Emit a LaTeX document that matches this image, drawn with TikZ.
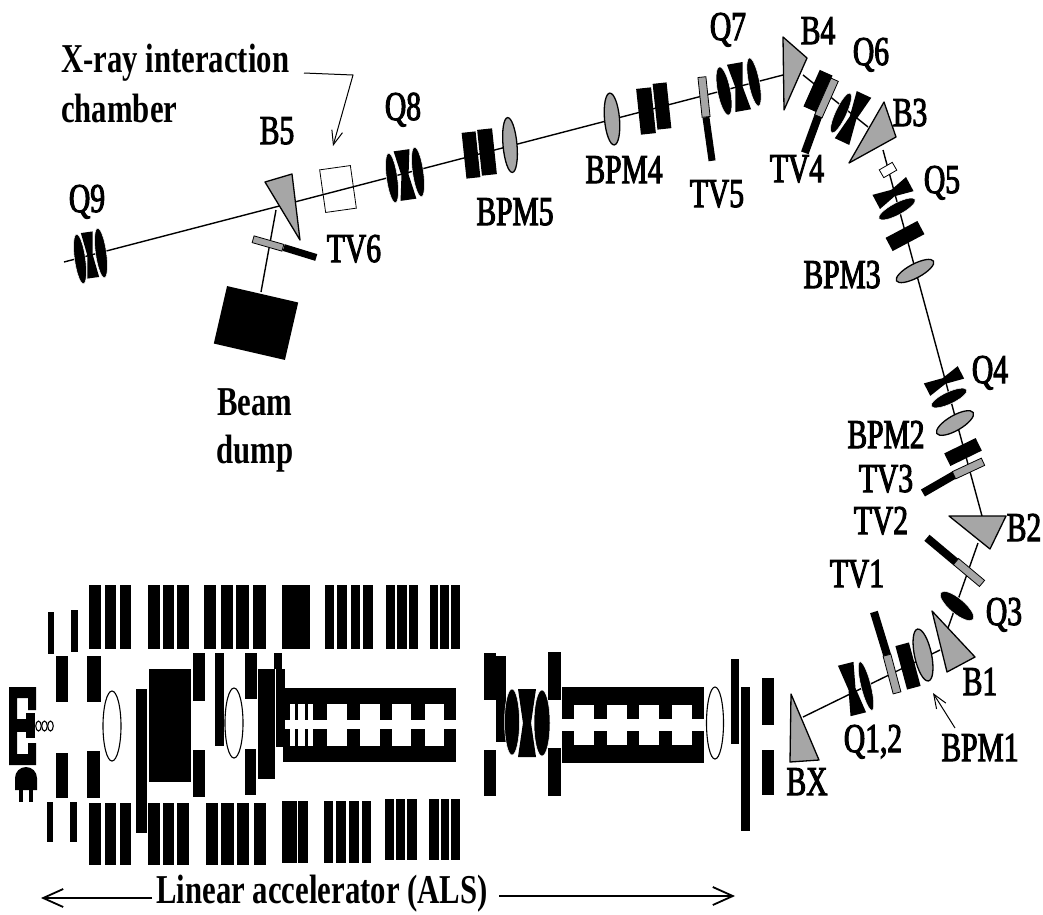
\documentclass[tikz,border=0pt]{standalone}
\usepackage{fontspec}
\usetikzlibrary{arrows.meta,shapes.geometric}
\newfontfamily\lblfont[FakeStretch=0.72,FakeBold=2.5]{Liberation Serif}
\newfontfamily\lblbold[FakeStretch=0.75]{Liberation Serif Bold}
\tikzset{
  lbl/.style={font=\lblfont\fontsize{41}{41}\selectfont, anchor=base, inner sep=0pt},
  bold lbl/.style={font=\lblbold\fontsize{41}{41}\selectfont, anchor=base, inner sep=0pt},
  beam/.style={line width=1.4pt},
  pointer/.style={line width=1pt, -{Straight Barb[length=14pt,width=11pt]}},
  span arrow/.style={line width=1.8pt, -{Straight Barb[length=20pt,width=18pt]}},
  blackbar/.style 2 args={rectangle, fill=black, inner sep=0pt, minimum width=#1pt, minimum height=#2pt},
  graybar/.style 2 args={rectangle, fill=gray!70, draw=black, line width=0.8pt, inner sep=0pt, minimum width=#1pt, minimum height=#2pt},
  lens/.style 2 args={ellipse, fill=black, draw=white, line width=0.5pt, inner sep=0pt, minimum width=#1pt, minimum height=#2pt},
  bpm/.style 2 args={ellipse, fill=gray!70, draw=black, line width=1.3pt, inner sep=0pt, minimum width=#1pt, minimum height=#2pt},
  hollow/.style 2 args={ellipse, fill=white, draw=black, line width=1.1pt, inner sep=0pt, minimum width=#1pt, minimum height=#2pt},
  dipole/.style={fill=gray!70, draw=black, line width=1.3pt, line join=round},
  bowtie/.pic={\fill (-1,-1) -- (1,-1) -- (0.45,0) -- (1,1) -- (-1,1) -- (-0.45,0) -- cycle;}
}

\begin{document}
\begin{tikzpicture}[x=1pt, y=-1pt]
  \useasboundingbox (0,0) rectangle (1043,914);

  % beam line
  \coordinate (bxout) at (803,717);
  \coordinate (bonein) at (940,650);
  \coordinate (boneout) at (948,628);
  \coordinate (btwoin) at (978,543);
  \coordinate (btwoout) at (982,516);
  \coordinate (bthreein) at (883,150);
  \coordinate (bthreeout) at (868,127);
  \coordinate (bfourout) at (803,75);
  \coordinate (bfourin) at (783,75);
  \coordinate (qnineend) at (64,262);
  \coordinate (bfiveout) at (276,210);
  \coordinate (dumpin) at (261,292);

  \draw[beam] (bxout) -- (bonein);
  \draw[beam] (boneout) -- (btwoin);
  \draw[beam] (btwoout) -- (bthreein);
  \draw[beam] (bthreeout) -- (bfourout);
  \draw[beam] (bfourin) -- (qnineend);
  \draw[beam] (bfiveout) -- (dumpin);

  % linac, upper and lower rows of coils
  \foreach \xa/\xb in {89/101,105/116,120/131,148/160,163/174,177/189,204/216,221/233,236/249,253/266,282/310,325/334,337/347,351/360,363/373,386/395,397/407,409/418,430/438,440/449,451/460}
    \fill (\xa,585) rectangle (\xb,649);
  \foreach \xa/\xb in {89/101,105/116,120/131,148/160,163/174,177/189,206/218,221/234,237/249,254/266}
    \fill (\xa,803) rectangle (\xb,865);
  \foreach \xa/\xb in {282/297,298/308,324/333,336/346,349/359,362/371}
    \fill (\xa,801) rectangle (\xb,863);
  \foreach \xa/\xb in {385/394,396/405,407/417,429/439,441/449,451/460}
    \fill (\xa,799) rectangle (\xb,860);

  % linac, single blocks
  \foreach \xa/\ya/\xb/\yb in {48/612/54/654,71/610/78/652,47/802/53/842,70/802/77/842,
      56/656/68/702,87/656/101/702,56/753/68/798,87/751/100/798,136/689/147/833,149/669/191/782,
      193/653/205/701,193/750/205/797,215/653/224/746,245/653/257/699,245/749/256/795,
      258/669/275/779,274/653/282/669,276/669/285/747,
      484/653/496/700,496/656/506/742,484/750/496/796,548/652/561/700,548/748/561/796,
      731/659/739/744,741/687/750/831,762/678/774/725,762/750/774/795}
    \fill (\xa,\ya) rectangle (\xb,\yb);

  % first accelerating section
  \fill (283,688) rectangle (456,704);
  \fill (283,746) rectangle (456,762);
  \foreach \xa/\xb in {285/290,295/298,305/308,313/327,347/360,380/392,411/425,444/456} {
    \fill (\xa,704) rectangle (\xb,720);
    \fill (\xa,729) rectangle (\xb,746);
  }

  % second accelerating section
  \fill (562,687) rectangle (704,705);
  \fill (562,745) rectangle (704,763);
  \foreach \xa/\xb in {562/574,594/607,627/639,659/672,692/704} {
    \fill (\xa,705) rectangle (\xb,719);
    \fill (\xa,731) rectangle (\xb,745);
  }

  % gun
  \fill (9,687) -- (36,687) -- (36,710) -- (28,710) -- (28,698) -- (17,698) -- (17,754)
    -- (28,754) -- (28,743) -- (36,743) -- (36,765) -- (9,765) -- cycle;
  \fill (17,719) rectangle (28,732);
  \fill (26,713) rectangle (35,738);
  \node[hollow={5.5}{10}] (gunone) at (38.5,726) {};
  \node[hollow={5.5}{10}] (guntwo) at (44.5,726) {};
  \node[hollow={5.5}{10}] (gunthree) at (50.5,726) {};
  \fill (15,790) -- (15,778) arc[start angle=180, end angle=0, x radius=11, y radius=-11] -- (37,790) -- cycle;
  \fill (19,790) rectangle (23,802);
  \fill (29,790) rectangle (33,802);

  % linac lenses
  \node[hollow={18}{70}] (lensa) at (112,726) {};
  \node[hollow={18}{70}] (lensb) at (234,723) {};
  \node[hollow={17}{72}] (lensc) at (715,723) {};
  \pic[xscale=9,yscale=34] (lensqb) at (527,723) {bowtie};
  \node[lens={15}{66}] (lensqa) at (512,722) {};
  \node[lens={16}{66}] (lensqc) at (542,723) {};

  % BX to B2
  \fill[dipole] (791,694) -- (819,760) -- (790,762) -- cycle;
  \pic[rotate=14,xscale=8,yscale=26] (qoneb) at (852,689) {bowtie};
  \node[lens={10}{50},rotate=14] (qonea) at (866,686) {};
  \node[blackbar={8}{45},rotate=17] (tvonea) at (880.5,633.5) {};
  \node[graybar={8}{39},rotate=15] (tvoneb) at (892,674) {};
  \node[blackbar={14}{45},rotate=15] (bpmonerect) at (908,666) {};
  \node[bpm={17}{53},rotate=12] (bpmone) at (923,655) {};
  \fill[dipole] (932,611) -- (975,657) -- (947,672) -- cycle;
  \node[lens={15}{42},rotate=50] (qthree) at (957,606) {};
  \node[blackbar={8}{38},rotate=50] (tvtwoa) at (941.5,550) {};
  \node[graybar={8}{34},rotate=50] (tvtwob) at (969,572.5) {};
  \fill[dipole] (949,516) -- (1006,516) -- (990,549) -- cycle;

  % B2 to B3
  \node[blackbar={8}{36},rotate=-60] (tvthreea) at (938.5,484) {};
  \node[graybar={8}{32},rotate=-65] (tvthreeb) at (968.5,468.5) {};
  \node[blackbar={14}{35},rotate=-64] (bpmtworect) at (963,452) {};
  \node[bpm={15}{42},rotate=-60] (bpmtwo) at (955,423) {};
  \pic[rotate=-63,xscale=7,yscale=19] (qfourb) at (944,381) {bowtie};
  \node[lens={12}{39},rotate=-65] (qfoura) at (949,398) {};
  \node[bpm={14}{42},rotate=-62] (bpmthree) at (915,271) {};
  \node[blackbar={15}{36},rotate=-62] (bpmthreerect) at (905,236) {};
  \pic[rotate=-62,xscale=8,yscale=19] (qfiveb) at (893,193) {bowtie};
  \node[lens={12}{41},rotate=-62] (qfivea) at (897,209) {};
  \node[rectangle, fill=white, draw=black, line width=0.8pt, inner sep=0pt, minimum width=9pt, minimum height=15pt, rotate=-60] (qfivebox) at (888,170) {};
  \fill[dipole] (884,102) -- (896,137) -- (849,163) -- cycle;

  % B3 to B4
  \pic[rotate=-25,xscale=8,yscale=26] (qsixb) at (853,118) {bowtie};
  \node[lens={11}{44},rotate=-25] (qsixa) at (841,113) {};
  \node[blackbar={14}{40},rotate=-24] (tvfourrect) at (818,91) {};
  \node[graybar={8}{40},rotate=-24] (tvfourb) at (826.5,98) {};
  \node[blackbar={8}{39},rotate=-20] (tvfoura) at (811.5,134.5) {};
  \fill[dipole] (783,37) -- (807,58) -- (784,110) -- cycle;

  % B4 to B5
  \pic[rotate=10,xscale=8,yscale=24] (qsevenb) at (739,87) {bowtie};
  \node[lens={13}{49},rotate=11] (qsevena) at (724,91) {};
  \node[lens={11}{49},rotate=11] (qsevenc) at (754,82) {};
  \node[graybar={8}{40},rotate=6] (tvfiveb) at (704,97) {};
  \node[blackbar={7}{44},rotate=8] (tvfivea) at (709,139) {};
  \node[blackbar={15}{46},rotate=6] (recta) at (646,111) {};
  \node[blackbar={14}{46},rotate=6] (rectb) at (662,106) {};
  \node[bpm={15}{52},rotate=5] (bpmfour) at (612,119) {};
  \node[bpm={14}{55},rotate=5] (bpmfive) at (510,145) {};
  \node[blackbar={14}{46},rotate=6] (rectc) at (471,155) {};
  \node[blackbar={15}{46},rotate=6] (rectd) at (487,152) {};
  \pic[rotate=8,xscale=8,yscale=25] (qeightb) at (405,175) {bowtie};
  \node[lens={11}{50},rotate=8] (qeighta) at (392,178) {};
  \node[lens={11}{50},rotate=8] (qeightc) at (418,172) {};
  \node[rectangle, draw=black, line width=0.8pt, inner sep=0pt, minimum width=31pt, minimum height=43pt, rotate=8] (chamber) at (338,189) {};
  \fill[dipole] (265,182) -- (292,174) -- (300,240) -- cycle;

  % B5 to the dump and Q9
  \node[graybar={7}{31},rotate=74] (tvsixb) at (268,243.5) {};
  \node[blackbar={7}{34},rotate=73] (tvsixa) at (300,252.5) {};
  \node[rectangle, fill=black, inner sep=0pt, minimum width=73pt, minimum height=59pt, rotate=-13] (dump) at (256,323) {};
  \pic[rotate=8,xscale=6,yscale=23] (qnineb) at (90,255) {bowtie};
  \node[lens={11}{50},rotate=8] (qninea) at (80,259) {};
  \node[lens={11}{50},rotate=8] (qninec) at (101,253) {};

  % pointers
  \coordinate (chamberstart) at (304,73);
  \coordinate (chamberbend) at (353,75);
  \coordinate (chambertip) at (333,146);
  \draw[pointer] (chamberstart) -- (chamberbend) -- (chambertip);
  \coordinate (bpmonestart) at (955,728);
  \coordinate (bpmonetip) at (933,693);
  \draw[pointer] (bpmonestart) -- (bpmonetip);
  \coordinate (linacleft) at (152,898);
  \coordinate (linacleftend) at (41,898);
  \coordinate (linacright) at (499,896);
  \coordinate (linacrightend) at (735,896);
  \draw[span arrow] (linacleft) -- (linacleftend);
  \draw[span arrow] (linacright) -- (linacrightend);

  % labels
  \node[bold lbl, anchor=base west] (xraytext) at (61,72) {X-ray interaction};
  \node[bold lbl, anchor=base west] (chambertext) at (61,122) {chamber};
  \node[lbl] (bfivetext) at (277,144) {B5};
  \node[lbl] (qeighttext) at (403,120) {Q8};
  \node[lbl] (qninetext) at (87,212) {Q9};
  \node[lbl] (bpmfivetext) at (515,225) {BPM5};
  \node[lbl] (tvsixtext) at (354,262) {TV6};
  \node[bold lbl] (beamtext) at (255,415) {Beam};
  \node[bold lbl] (dumptext) at (255,463) {dump};
  \node[lbl] (bpmfourtext) at (624,183) {BPM4};
  \node[lbl] (tvfivetext) at (717,207) {TV5};
  \node[lbl] (qseventext) at (728,40) {Q7};
  \node[lbl] (bfourtext) at (818,44) {B4};
  \node[lbl] (qsixtext) at (871,65) {Q6};
  \node[lbl] (tvfourtext) at (797,182) {TV4};
  \node[lbl] (bthreetext) at (910,126) {B3};
  \node[lbl] (qfivetext) at (942,193) {Q5};
  \node[lbl] (bpmthreetext) at (842,288) {BPM3};
  \node[lbl] (qfourtext) at (990,383) {Q4};
  \node[lbl] (bpmtwotext) at (886,448) {BPM2};
  \node[lbl] (tvthreetext) at (886,492) {TV3};
  \node[lbl] (tvtwotext) at (881,534) {TV2};
  \node[lbl] (btwotext) at (1024,541) {B2};
  \node[lbl] (tvonetext) at (857,587) {TV1};
  \node[lbl] (qthreetext) at (1004,625) {Q3};
  \node[lbl] (bonetext) at (980,695) {B1};
  \node[lbl] (qonetext) at (873,752) {Q1,2};
  \node[lbl] (bpmonetext) at (980,761) {BPM1};
  \node[lbl] (bxtext) at (807,795) {BX};
  \node[bold lbl] (linactext) at (322,903) {Linear accelerator (ALS)};
\end{tikzpicture}
\end{document}
